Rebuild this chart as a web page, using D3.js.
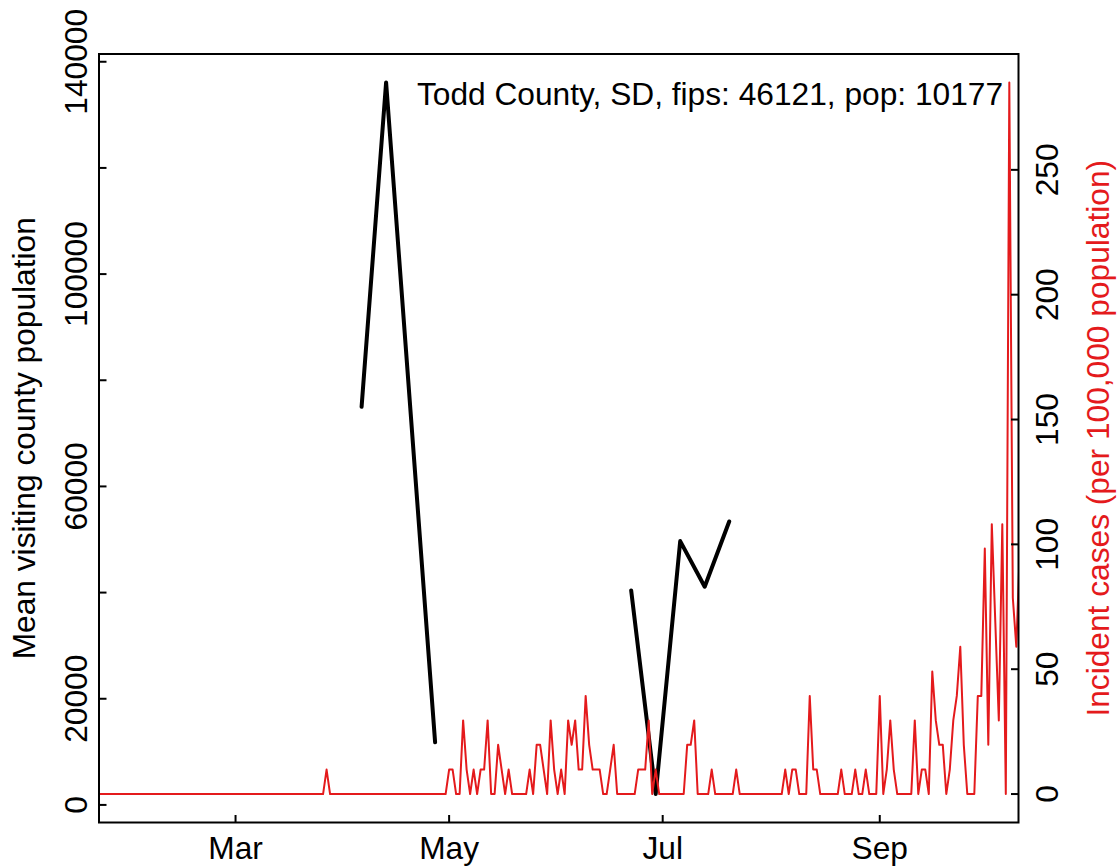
<!DOCTYPE html>
<html><head><meta charset="utf-8">
<script src="https://cdn.jsdelivr.net/npm/d3@7"></script>
<style>
html,body{margin:0;padding:0;background:#fff;}
svg{display:block;font-family:"Liberation Sans",Arial,Helvetica,sans-serif;}
</style></head><body>
<svg id="chart" width="1119" height="868"></svg>
<script>
// ---------------- data ----------------
const titleText = "Todd County, SD, fips: 46121, pop: 10177";
const leftAxisTitle = "Mean visiting county population";
const rightAxisTitle = "Incident cases (per 100,000 population)";

// weekly mean visiting county population (null = missing week -> gap)
const mobilityDates  = ["2020-04-06","2020-04-13","2020-04-27","2020-05-04","2020-06-22","2020-06-29","2020-07-06","2020-07-13","2020-07-20"];
const mobilityValues = [75000, 136100, 11800, null, 40400, 2050, 49700, 41100, 53400];

// daily incident cases per 100,000, starting at caseStartDate
const caseStartDate = "2020-01-21";
const casesJan = [0,0,0,0,0,0,0,0,0,0,0];
const casesFeb = [0,0,0,0,0,0,0,0,0,0, 0,0,0,0,0,0,0,0,0,0, 0,0,0,0,0,0,0,0,0];
const casesMar = [0,0,0,0,0,0,0,0,0,0, 0,0,0,0,0,0,0,0,0,0, 0,0,0,0,0,0,9.8,0,0,0, 0];
const casesApr = [0,0,0,0,0,0,0,0,0,0, 0,0,0,0,0,0,0,0,0,0, 0,0,0,0,0,0,0,0,0,0];
const casesMay = [9.8,9.8,0,0,29.5,9.8,0,9.8,0,9.8, 9.8,29.5,0,0,19.7,9.8,0,9.8,0,0, 0,0,0,9.8,0,19.7,19.7,9.8,0,29.5, 9.8];
const casesJun = [0,9.8,0,29.5,19.7,29.5,9.8,9.8,39.3,19.7, 9.8,9.8,9.8,0,0,9.8,19.7,0,0,0, 0,0,0,9.8,9.8,9.8,29.5,0,9.8,0];
const casesJul = [0,0,0,0,0,0,0,19.7,19.7,29.5, 0,0,0,0,9.8,0,0,0,0,0, 0,9.8,0,0,0,0,0,0,0,0, 0];
const casesAug = [0,0,0,0,9.8,0,9.8,9.8,0,0, 0,39.3,9.8,9.8,0,0,0,0,0,0, 9.8,0,0,0,9.8,0,0,9.8,0,0, 0];
const casesSep = [39.3,0,9.8,29.5,9.8,0,0,0,0,0, 29.5,0,9.8,9.8,0,49.1,29.5,19.7,19.7,0, 9.8,29.5,39.3,59.0,19.7,0,0,0,39.3,39.3];
const casesOct = [98.3,19.7,108.1,68.8,29.5,108.1,0,285.0,78.6,59.0, 98.3];
const incidentCases = [].concat(casesJan, casesFeb, casesMar, casesApr, casesMay, casesJun, casesJul, casesAug, casesSep, casesOct);

const xDomainDates = ["2020-01-22T00:00", "2020-10-10T15:00"];
const monthTickDates  = ["2020-03-01","2020-05-01","2020-07-01","2020-09-01"];
const monthTickLabels = ["Mar","May","Jul","Sep"];
const leftTickValues  = [0,20000,40000,60000,80000,100000,120000,140000];
const leftLabelValues = [0,20000,60000,100000,140000];
const rightTickValues = [0,50,100,150,200,250];

// ---------------- layout ----------------
const W = 1119, H = 868;
const margin = {left: 99, right: 100.5, top: 54, bottom: 45.5};
const x0 = margin.left, x1 = W - margin.right, y0 = margin.top, y1 = H - margin.bottom;
const RED = "#E41A1C";
const FONT = 31.7;
const TICK = 7.5;

const parseDay = d3.utcParse("%Y-%m-%d");
const parseDT = d3.utcParse("%Y-%m-%dT%H:%M");

const svg = d3.select("#chart");

const x = d3.scaleUtc().domain(xDomainDates.map(parseDT)).range([x0, x1]);

const mobVals = mobilityValues.filter(v => v != null);
const mMin = d3.min(mobVals), mMax = d3.max(mobVals), mPad = 0.04 * (mMax - mMin);
const yL = d3.scaleLinear().domain([mMin - mPad, mMax + mPad]).range([y1, y0]);

const cMin = d3.min(incidentCases), cMax = d3.max(incidentCases), cPad = 0.04 * (cMax - cMin);
const yR = d3.scaleLinear().domain([cMin - cPad, cMax + cPad]).range([y1, y0]);

svg.append("defs").append("clipPath").attr("id","plotclip")
  .append("rect").attr("x", x0).attr("y", y0).attr("width", x1 - x0).attr("height", y1 - y0);

const plot = svg.append("g").attr("clip-path","url(#plotclip)");

// black mobility line
const mobData = mobilityDates.map((d,i) => ({date: parseDay(d), v: mobilityValues[i]}));
plot.append("path")
  .datum(mobData)
  .attr("fill","none").attr("stroke","#000").attr("stroke-width",4)
  .attr("stroke-linejoin","round").attr("stroke-linecap","round")
  .attr("d", d3.line().defined(d => d.v != null).x(d => x(d.date)).y(d => yL(d.v)));

// red incidence line
const start = parseDay(caseStartDate);
const caseData = incidentCases.map((v,i) => ({date: d3.utcDay.offset(start, i), v}));
plot.append("path")
  .datum(caseData)
  .attr("fill","none").attr("stroke",RED).attr("stroke-width",2)
  .attr("stroke-linejoin","round").attr("stroke-linecap","round")
  .attr("d", d3.line().x(d => x(d.date)).y(d => yR(d.v)));

// box
svg.append("rect").attr("x", x0).attr("y", y0).attr("width", x1 - x0).attr("height", y1 - y0)
  .attr("fill","none").attr("stroke","#000").attr("stroke-width",2);

// bottom axis (inward ticks)
const gx = svg.append("g");
monthTickDates.forEach((d,i) => {
  const px = x(parseDay(d));
  gx.append("line").attr("x1",px).attr("x2",px).attr("y1",y1).attr("y2",y1 - TICK)
    .attr("stroke","#000").attr("stroke-width",2);
  gx.append("text").attr("x",px).attr("y",859).attr("text-anchor","middle")
    .attr("font-size",FONT).attr("fill","#000").text(monthTickLabels[i]);
});

// left axis
const gl = svg.append("g");
leftTickValues.forEach(v => {
  gl.append("line").attr("x1",x0).attr("x2",x0 + TICK).attr("y1",yL(v)).attr("y2",yL(v))
    .attr("stroke","#000").attr("stroke-width",2);
});
leftLabelValues.forEach(v => {
  gl.append("text").attr("transform",`translate(87,${yL(v)}) rotate(-90)`)
    .attr("text-anchor","middle").attr("font-size",FONT).attr("fill","#000").text(String(v));
});
gl.append("text").attr("transform",`translate(35,${(y0+y1)/2}) rotate(-90)`)
  .attr("text-anchor","middle").attr("font-size",FONT).attr("fill","#000").text(leftAxisTitle);

// right axis
const gr = svg.append("g");
rightTickValues.forEach(v => {
  gr.append("line").attr("x1",x1).attr("x2",x1 - TICK).attr("y1",yR(v)).attr("y2",yR(v))
    .attr("stroke","#000").attr("stroke-width",2);
  gr.append("text").attr("transform",`translate(1058,${yR(v)}) rotate(-90)`)
    .attr("text-anchor","middle").attr("font-size",FONT).attr("fill","#000").text(String(v));
});
gr.append("text").attr("transform",`translate(1109,${(y0+y1)/2}) rotate(-90)`)
  .attr("text-anchor","middle").attr("font-size",FONT).attr("fill",RED).text(rightAxisTitle);

// title text
svg.append("text").attr("x",1003).attr("y",105).attr("text-anchor","end")
  .attr("font-size",FONT).attr("fill","#000").text(titleText);
</script>
</body></html>
